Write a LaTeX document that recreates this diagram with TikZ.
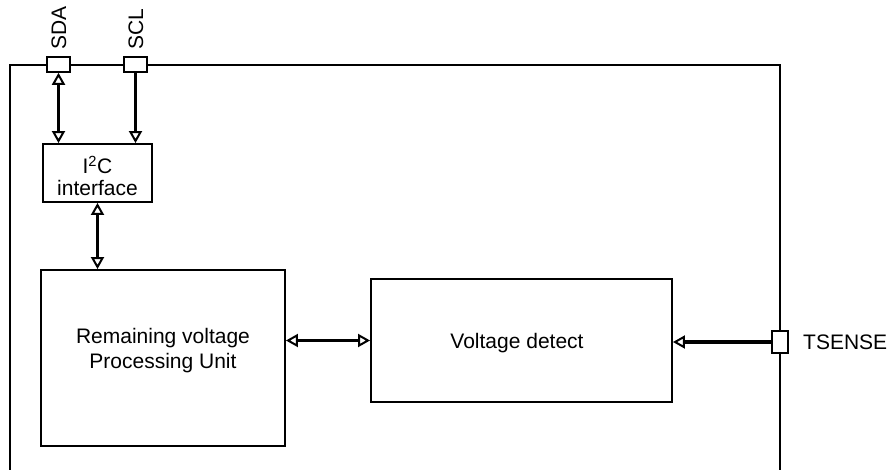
\documentclass[tikz,border=0pt]{standalone}
\usepackage{fontspec}
\setmainfont{Liberation Sans}
\usetikzlibrary{arrows.meta}
\begin{document}
\begin{tikzpicture}[x=1pt,y=-1pt,
  border/.style={line width=1.8pt},
  box/.style={draw, line width=1.9pt, inner sep=0pt, fill=white},
  pin/.style={draw, line width=1.6pt, inner sep=0pt, fill=white},
  lbl/.style={inner sep=0pt, font=\fontsize{21}{25}\selectfont, align=center},
  arr/.style={line width=3.4pt, -{Triangle[open,length=12pt,width=13pt,line width=2pt]}},
  dbl/.style={line width=3.4pt, {Triangle[open,length=12pt,width=13pt,line width=2pt]}-{Triangle[open,length=12pt,width=13pt,line width=2pt]}}
]
\useasboundingbox (0,0) rectangle (890,470);
% outer frame
\coordinate (fbl) at (10,470);
\coordinate (ftl) at (10,65);
\coordinate (ftr) at (780,65);
\coordinate (fbr) at (780,470);
\draw[border] (fbl) -- (ftl) -- (ftr) -- (fbr);
% boxes
\node[box, minimum width=109pt, minimum height=58pt] (i2c) at (97.5,173) {};
\node[box, minimum width=244pt, minimum height=176pt] (rpu) at (163,358) {};
\node[box, minimum width=301pt, minimum height=123pt] (vd) at (521.5,340.5) {};
% pins
\node[pin, minimum width=23pt, minimum height=15pt] (sda) at (58.5,64.5) {};
\node[pin, minimum width=23pt, minimum height=15pt] (scl) at (135.5,64.5) {};
\node[pin, minimum width=16pt, minimum height=22pt] (ts) at (780,342) {};
% texts
\node[lbl, anchor=base] (i2cta) at (97.5,174) {I\textsuperscript{2}C};
\node[lbl, anchor=base] (i2ctb) at (97.5,195.5) {interface};
\node[lbl] (rput) at (163,351) {Remaining voltage\\Processing Unit};
\node[lbl] (vdt) at (517,343.5) {Voltage detect};
\node[lbl, rotate=90, anchor=base west] (sdal) at (66,50) {SDA};
\node[lbl, rotate=90, anchor=base west] (scll) at (143,50) {SCL};
\node[lbl, anchor=west] (tsl) at (803,342) {TSENSE};
% connectors
\draw[dbl] (sda.south) -- (sda.south |- i2c.north);
\draw[arr] (scl.south) -- (scl.south |- i2c.north);
\draw[dbl] (i2c.south) -- (i2c.south |- rpu.north);
\draw[dbl] (rpu.east |- vd.west) -- (vd.west);
\draw[arr] (ts.west) -- (ts.west -| vd.east);
\end{tikzpicture}
\end{document}
